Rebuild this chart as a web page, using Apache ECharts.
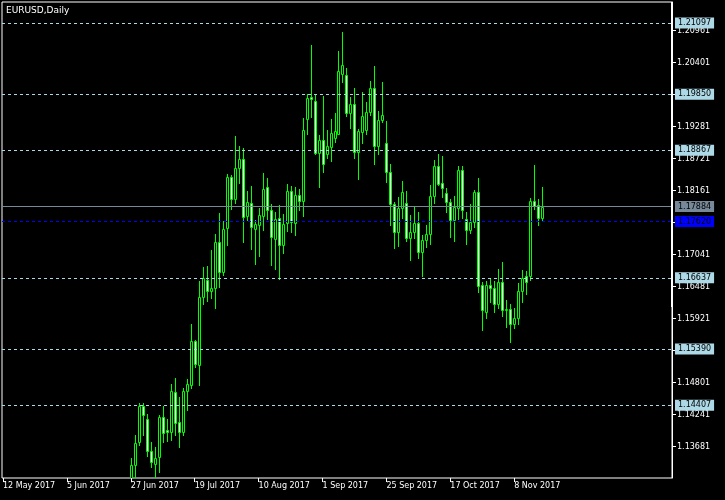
<!DOCTYPE html>
<html><head><meta charset="utf-8">
<script src="https://cdn.jsdelivr.net/npm/echarts@6/dist/echarts.min.js"></script>
<style>html,body{margin:0;padding:0;background:#000}#c{width:725px;height:500px}</style>
</head><body><div id="c"></div>
<script>
const symbolTitle = 'EURUSD,Daily';
const firstDate = '2017-05-12';
const slotCount = 168;
const hiddenDays = 32; // early bars lie below the visible price scale
const opens = [1.1313,1.13355,1.13763,1.14393,1.14160,1.13600,1.13383,1.13495,1.14195,1.13973,
1.13943,1.14638,1.14113,1.13943,1.14661,1.14760,1.15531,1.15116,1.16295,1.16598,
1.16411,1.16463,1.17263,1.16743,1.17513,1.18406,1.18010,1.18553,1.18710,1.17718,
1.17940,1.17496,1.17555,1.17718,1.18220,1.17818,1.17315,1.17678,1.17216,1.17590,
1.18150,1.17601,1.18080,1.17986,1.19421,1.19801,1.19731,1.18826,1.19048,1.18803,
1.18931,1.19088,1.19158,1.20208,1.20186,1.19521,1.19673,1.18843,1.19193,1.19228,
1.19533,1.19953,1.18938,1.19404,1.18996,1.18481,1.17923,1.17443,1.17853,1.17940,
1.17328,1.17433,1.17596,1.17093,1.17303,1.17398,1.18073,1.18588,1.18290,1.18115,
1.17958,1.17653,1.17853,1.18523,1.17666,1.17478,1.17608,1.18133,1.16511,1.16043,
1.16511,1.16453,1.16173,1.16558,1.16078,1.16091,1.15833,1.15928,1.16406,1.16663,
1.16663,1.17981,1.17911,1.17688];
const highs = [1.13478,1.13885,1.14451,1.14440,1.14253,1.13758,1.13670,1.14236,1.14393,1.14160,
1.14778,1.14883,1.14556,1.14708,1.14865,1.15828,1.15548,1.16581,1.16831,1.16843,
1.17123,1.17403,1.17770,1.17636,1.18453,1.18430,1.19118,1.18943,1.18908,1.18150,
1.18243,1.17648,1.17858,1.18465,1.18383,1.17928,1.17788,1.17910,1.17753,1.18278,
1.18243,1.18231,1.18185,1.19433,1.19853,1.20716,1.19853,1.19130,1.19818,1.19223,
1.19416,1.19521,1.20606,1.20943,1.20314,1.19801,1.19953,1.19241,1.19883,1.19708,
1.20081,1.20338,1.19556,1.20068,1.19381,1.18623,1.17968,1.18051,1.18331,1.18156,
1.17736,1.17876,1.17793,1.17386,1.17561,1.18261,1.18703,1.18798,1.18763,1.18213,
1.18016,1.18073,1.18598,1.18588,1.17793,1.17923,1.18178,1.18378,1.16568,1.16581,
1.16616,1.16581,1.16791,1.16918,1.16253,1.16173,1.16103,1.16546,1.16768,1.16756,
1.18038,1.18611,1.18016,1.18226];
const lows = [1.1313,1.1313,1.13711,1.13885,1.13518,1.13331,1.1313,1.13243,1.13768,1.13786,
1.13798,1.13885,1.13681,1.13885,1.14323,1.14703,1.15081,1.14760,1.16178,1.16236,
1.16283,1.16113,1.16481,1.16685,1.17211,1.17846,1.17940,1.18301,1.17268,1.17648,
1.17146,1.16878,1.17018,1.17473,1.17660,1.16866,1.16796,1.16610,1.17076,1.17461,
1.17438,1.17391,1.17823,1.17718,1.19153,1.19456,1.18803,1.18231,1.18488,1.18733,
1.18681,1.19018,1.19148,1.20068,1.19473,1.19263,1.18728,1.18366,1.18996,1.19158,
1.19486,1.18623,1.18808,1.19358,1.18318,1.17561,1.17163,1.17198,1.17678,1.17281,
1.16953,1.17328,1.16988,1.16673,1.17176,1.17233,1.17946,1.18261,1.18056,1.17793,
1.17351,1.17281,1.17666,1.17678,1.17233,1.17421,1.17526,1.16393,1.15728,1.15928,
1.16218,1.16043,1.16103,1.15973,1.15775,1.15519,1.15763,1.15823,1.16218,1.16358,
1.16603,1.17841,1.17561,1.17631];
const closes = [1.13361,1.13740,1.14393,1.14236,1.13611,1.13418,1.13483,1.14206,1.13926,1.13945,
1.14650,1.14101,1.13943,1.14650,1.14778,1.15531,1.15133,1.16301,1.16633,1.16411,
1.16458,1.17263,1.16743,1.17490,1.18406,1.18021,1.18553,1.18710,1.17706,1.17958,
1.17520,1.17573,1.17730,1.18185,1.17818,1.17345,1.17665,1.17216,1.17578,1.18150,
1.17613,1.18080,1.17981,1.19223,1.19778,1.19771,1.18826,1.19048,1.18628,1.18943,
1.19166,1.19206,1.20256,1.20361,1.19521,1.19673,1.18843,1.19206,1.19463,1.19533,
1.19953,1.18938,1.19404,1.19486,1.18481,1.17923,1.17443,1.17853,1.18133,1.17328,
1.17433,1.17596,1.17093,1.17293,1.17398,1.18073,1.18588,1.18273,1.18203,1.17958,
1.17653,1.17881,1.18523,1.17818,1.17478,1.17608,1.18133,1.16498,1.16068,1.16511,
1.16453,1.16173,1.16558,1.16068,1.16091,1.15833,1.15928,1.16406,1.16628,1.16568,
1.17981,1.17888,1.17688,1.17884];
const yTicks = [1.13681,1.14241,1.14801,1.15361,1.15921,1.16481,1.17041,1.17601,1.18161,1.18721,1.19281,1.19841,1.20401,1.20961];
const levelPrices = [1.21097,1.19850,1.18867,1.16637,1.15390,1.14407];
const bidPrice = 1.17884;
const bluePrice = 1.17620;
const yMin = 1.13133, yMax = 1.21463;
const months = ['Jan','Feb','Mar','Apr','May','Jun','Jul','Aug','Sep','Oct','Nov','Dec'];

// trading-day categories
const dates = [];
let d = new Date(firstDate + 'T00:00:00Z');
while (dates.length < slotCount) {
  const wd = d.getUTCDay();
  if (wd !== 0 && wd !== 6) dates.push(d.getUTCDate() + ' ' + months[d.getUTCMonth()] + ' ' + d.getUTCFullYear());
  d = new Date(d.getTime() + 86400000);
}
const lastIdx = hiddenDays + opens.length - 1;
const bars = opens.map((o, i) => [hiddenDays + i, o, closes[i], lows[i], highs[i]]);

const font = 'DejaVu Sans';
const GREEN = '#00FF00';
const showIdx = (idx) => idx % 16 === 0 && idx <= lastIdx;
const lvlLabel = (bg, fg) => ({show: true, position: 'end', distance: 3, formatter: p => Number(p.value).toFixed(5),
  color: fg, backgroundColor: bg, padding: [1, 3, 0, 3], fontFamily: font, fontSize: 8, lineHeight: 10});

const markData = levelPrices.map(v => ({yAxis: v, lineStyle: {color: '#ADD8E6', type: [3, 3], width: 1}, label: lvlLabel('#ADD8E6', '#000')}));
markData.push({yAxis: bidPrice, lineStyle: {color: '#778899', type: 'solid', width: 1}, label: lvlLabel('#778899', '#000')});
markData.push({yAxis: bluePrice, lineStyle: {color: '#0000FF', type: [3, 3], width: 1}, label: lvlLabel('#0000FF', '#000')});

function renderCandle(params, api) {
  const idx = api.value(0);
  const o = api.value(1), c = api.value(2);
  const pO = api.coord([idx, o]);
  const px = Math.round(pO[0]);
  const yO = pO[1];
  const yC = api.coord([idx, c])[1];
  const yL = api.coord([idx, api.value(3)])[1];
  const yH = api.coord([idx, api.value(4)])[1];
  const top = Math.round(Math.min(yO, yC)) + 0.5;
  const bot = Math.round(Math.max(yO, yC)) + 0.5;
  return {type: 'group', children: [
    {type: 'line', shape: {x1: px + 0.5, y1: Math.round(yH), x2: px + 0.5, y2: Math.round(yL) + 1},
     style: {stroke: GREEN, lineWidth: 1}},
    {type: 'rect', shape: {x: px - 0.5, y: top, width: 2, height: bot - top},
     style: {fill: c > o ? '#000' : '#fff', stroke: GREEN, lineWidth: 1}}
  ]};
}

const chart = echarts.init(document.getElementById('c'), null, {renderer: 'canvas'});
chart.setOption({
  animation: false,
  backgroundColor: '#000',
  title: {text: symbolTitle, left: 6, top: 6, padding: 0,
    textStyle: {color: '#fff', fontSize: 9, fontWeight: 'normal', fontFamily: font}},
  graphic: [{type: 'rect', left: 671, top: 2, shape: {x: 0, y: 0, width: 2, height: 305}, style: {fill: '#fff'}, z: 100, silent: true}],
  grid: [
    {left: 2, right: 55, top: 2, bottom: 22, show: false},
    {left: 2, right: 53, top: 2, bottom: 22, show: true, borderColor: '#fff', borderWidth: 1, backgroundColor: 'transparent'}
  ],
  xAxis: [{
    gridIndex: 0, type: 'category', data: dates, boundaryGap: false,
    axisLine: {show: false},
    axisTick: {show: true, length: 4, interval: showIdx, lineStyle: {color: '#fff'}},
    axisLabel: {interval: showIdx, color: '#fff', fontFamily: font, fontSize: 8, align: 'left', margin: 4},
    splitLine: {show: false}
  }, {
    gridIndex: 1, type: 'category', data: dates, boundaryGap: false, show: false
  }],
  yAxis: [{
    gridIndex: 0, type: 'value', min: yMin, max: yMax, show: false, splitLine: {show: false}
  }, {
    gridIndex: 1, type: 'value', position: 'right', min: yMin, max: yMax,
    axisLine: {show: true, lineStyle: {color: '#fff', width: 1}},
    axisTick: {show: true, length: 4, customValues: yTicks, lineStyle: {color: '#fff'}},
    axisLabel: {customValues: yTicks, color: '#fff', fontFamily: font, fontSize: 8, margin: 5, formatter: v => v.toFixed(5)},
    splitLine: {show: false}
  }],
  series: [
    {type: 'line', xAxisIndex: 1, yAxisIndex: 1, data: [], z: 1, silent: true,
     markLine: {symbol: 'none', silent: true, animation: false, precision: 5, data: markData}},
    {type: 'custom', name: 'EURUSD', xAxisIndex: 0, yAxisIndex: 0, data: bars, z: 3, clip: true,
     encode: {x: 0, y: [1, 2, 3, 4]}, renderItem: renderCandle}
  ]
});
</script></body></html>
